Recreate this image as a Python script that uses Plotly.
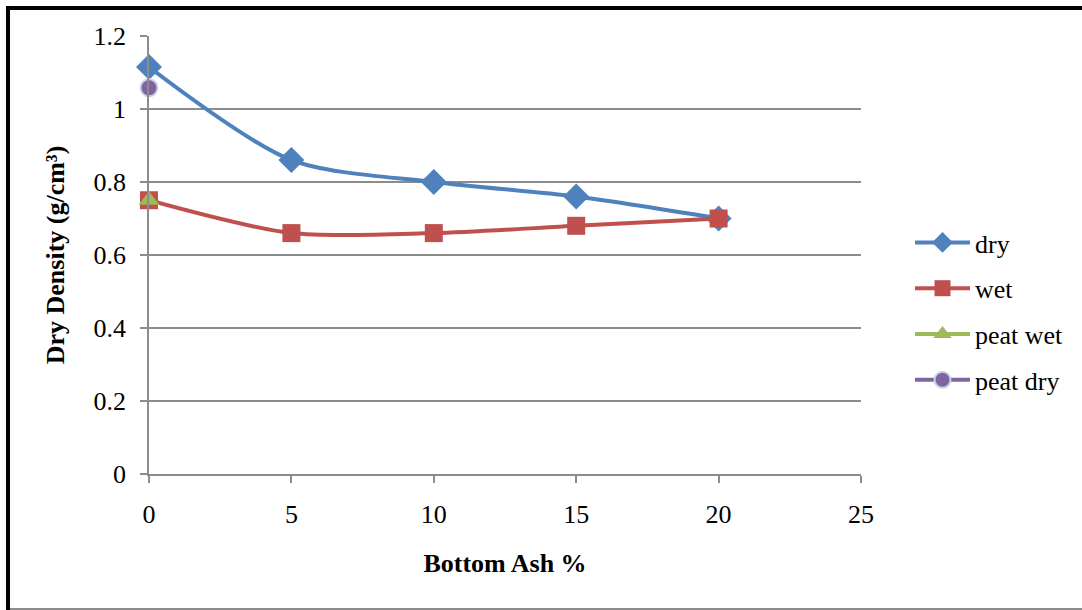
import plotly.graph_objects as go

bottom_ash = [0, 5, 10, 15, 20]
dry = [1.115, 0.86, 0.80, 0.76, 0.70]
wet = [0.75, 0.66, 0.66, 0.68, 0.70]
peat_wet_x = [0]
peat_wet = [0.75]
peat_dry_x = [0]
peat_dry = [1.058]

W, H = 1082, 610
L, R, T, B = 149, 861, 36, 474
pw, ph = R - L, B - T

def px(x):
    return (x - L) / pw

def py(y):
    return (B - y) / ph

FONT = "Liberation Serif"
FS = 26

fig = go.Figure()
fig.add_trace(go.Scatter(x=bottom_ash, y=dry, name="dry", mode="lines+markers",
                         line=dict(color="#4F81BD", width=4, shape="spline", smoothing=0.8),
                         marker=dict(symbol="diamond", size=20, color="#4F81BD"),
                         legendgroup="a", cliponaxis=False))
fig.add_trace(go.Scatter(x=bottom_ash, y=wet, name="wet", mode="lines+markers",
                         line=dict(color="#C0504D", width=4, shape="spline", smoothing=0.8),
                         marker=dict(symbol="square", size=18, color="#C0504D"),
                         legendgroup="b", cliponaxis=False))
fig.add_trace(go.Scatter(x=peat_wet_x, y=peat_wet, name="peat wet", mode="lines+markers",
                         line=dict(color="#9BBB59", width=4),
                         marker=dict(symbol="triangle-up", size=18, color="#9BBB59"),
                         legendgroup="c", cliponaxis=False))
fig.add_trace(go.Scatter(x=peat_dry_x, y=peat_dry, name="peat dry", mode="lines+markers",
                         line=dict(color="#8064A2", width=4),
                         marker=dict(symbol="circle", size=17, color="#8064A2",
                                     line=dict(color="#C9D3E8", width=2)),
                         legendgroup="d", cliponaxis=False))

fig.update_layout(
    width=W, height=H,
    margin=dict(l=L, r=W - R, t=T, b=H - B, pad=0),
    paper_bgcolor="white", plot_bgcolor="white",
    font=dict(family=FONT, size=FS, color="black"),
    showlegend=True,
    legend=dict(x=px(910), y=py(219), xanchor="left", yanchor="top",
                font=dict(family=FONT, size=FS, color="black"),
                traceorder="grouped", tracegroupgap=9, itemwidth=55,
                bgcolor="rgba(0,0,0,0)"),
    xaxis=dict(range=[0, 25], tickvals=[0, 5, 10, 15, 20, 25], showgrid=False,
               showline=True, linecolor="#8C8C8C", linewidth=1.5,
               ticks="outside", ticklen=7, tickcolor="#8C8C8C", tickwidth=1.5,
               ticklabelstandoff=9, zeroline=False,
               title=dict(text="<b>Bottom Ash %</b>", standoff=26,
                          font=dict(family=FONT, size=FS))),
    yaxis=dict(range=[0, 1.2], tickvals=[0, 0.2, 0.4, 0.6, 0.8, 1, 1.2],
               ticktext=["0", "0.2", "0.4", "0.6", "0.8", "1", "1.2"],
               showgrid=True, gridcolor="#8C8C8C", gridwidth=1.5,
               showline=True, linecolor="#8C8C8C", linewidth=1.5,
               ticks="outside", ticklen=7, tickcolor="#8C8C8C", tickwidth=1.5,
               ticklabelstandoff=9, zeroline=False,
               title=dict(text="<b>Dry Density (g/cm³)</b>", standoff=21,
                          font=dict(family=FONT, size=FS))),
    shapes=[
        dict(type="line", xref="paper", yref="paper", x0=px(8), x1=px(8), y0=py(6), y1=py(612),
             line=dict(color="black", width=4)),
        dict(type="line", xref="paper", yref="paper", x0=px(6), x1=px(1084), y0=py(8), y1=py(8),
             line=dict(color="black", width=4)),
        dict(type="line", xref="paper", yref="paper", x0=px(10), x1=px(1084), y0=py(609), y1=py(609),
             line=dict(color="#8C8C8C", width=2)),
    ],
)

fig.write_html("out.html")
